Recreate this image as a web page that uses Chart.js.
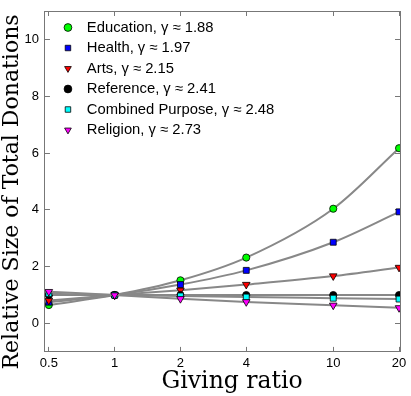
<!DOCTYPE html>
<html>
<head>
<meta charset="utf-8">
<script src="https://cdn.jsdelivr.net/npm/chart.js@4.4.1/dist/chart.umd.min.js"></script>
<style>
  html, body { margin: 0; padding: 0; background: #fff; }
  #wrap { width: 411px; height: 396px; }
</style>
</head>
<body>
<div id="wrap"><canvas id="donations"></canvas></div>
<script>
// values
const givingRatio = [0.5, 1, 2, 4, 10, 20];
const education = [0.65, 1, 1.52, 2.32, 4.04, 6.17];
const health = [0.75, 1, 1.37, 1.87, 2.86, 3.93];
const arts = [0.81, 1, 1.17, 1.37, 1.67, 1.97];
const reference = [1.0, 1, 1.0, 1.0, 1.0, 1.0];
const combined = [1.05, 1, 0.97, 0.93, 0.89, 0.86];
const religion = [1.12, 1, 0.87, 0.76, 0.64, 0.55];

const purposes = ['Education', 'Health', 'Arts', 'Reference', 'Combined Purpose', 'Religion'];
const gammas = ['1.88', '1.97', '2.15', '2.41', '2.48', '2.73'];
const xTicks = [0.5, 1, 2, 4, 10, 20];
const yTicks = [0, 2, 4, 6, 8, 10];

const seriesValues = [education, health, arts, reference, combined, religion];

// marker looks
const markerColors = ['#00ff00', '#0000ff', '#ff0000', '#000000', '#00ffff', '#ff00ff'];
const markerStyles = ['circle', 'rect', 'triangle', 'circle', 'rect', 'triangle'];
const markerTurns = [0, 0, 180, 0, 0, 180];
const markerSizes = [3.6, 4.2, 4.4, 3.6, 4.2, 4.4];

const frameColor = '#777';
const tickFont = { family: 'Liberation Sans', size: 13 };
// inward tick marks are 5px; an empty 5px title keeps the top/right boxes at zero size
const spacerTitle = { display: true, text: '', font: { size: 5, lineHeight: 1 }, padding: 0 };

const datasets = purposes.map((name, i) => ({
    label: name + ', \u03b3 \u2248 ' + gammas[i],
    data: givingRatio.map((x, j) => ({ x: x, y: seriesValues[i][j] })),
    borderColor: '#888',
    borderWidth: 2,
    cubicInterpolationMode: 'monotone',
    pointStyle: markerStyles[i],
    pointRotation: markerTurns[i],
    pointRadius: markerSizes[i],
    pointBackgroundColor: markerColors[i],
    pointBorderColor: '#000',
    pointBorderWidth: 0.8,
    order: purposes.length - i
}));

function setTicks(list) {
    return scale => { scale.ticks = list.map(v => ({ value: v })); };
}

// labels may hang over the plot edges, don't reserve room for them
function noEdgePadding(scale) {
    scale.paddingTop = 0;
    scale.paddingBottom = 0;
    scale.paddingLeft = 0;
    scale.paddingRight = 0;
}

// put the legend inside the plot, top left
const legendInPlot = {
    id: 'legendInPlot',
    afterLayout(chart) {
        const lg = chart.legend;
        const area = chart.chartArea;
        lg.left = area.left + 9.9;
        lg.top = area.top + 3.4;
        lg.right = area.right;
        lg.bottom = area.bottom;
    }
};

const config = {
    type: 'line',
    data: { datasets: datasets },
    options: {
        responsive: true,
        maintainAspectRatio: false,
        animation: false,
        devicePixelRatio: 1,
        layout: { padding: { left: 0, right: 11, top: 11, bottom: 2 } },
        plugins: {
            tooltip: { enabled: false },
            legend: {
                position: 'chartArea',
                align: 'start',
                labels: {
                    usePointStyle: true,
                    boxHeight: 5.5,
                    padding: 5.7,
                    color: '#000',
                    font: { family: 'Liberation Sans', size: 14.8 },
                    sort: (a, b) => a.datasetIndex - b.datasetIndex,
                    generateLabels: chart => Chart.defaults.plugins.legend.labels.generateLabels(chart)
                        .map(item => Object.assign(item, { text: ' ' + item.text }))
                }
            }
        },
        scales: {
            x: {
                type: 'logarithmic',
                min: 0.48,
                max: 20.2,
                afterBuildTicks: setTicks(xTicks),
                afterFit: noEdgePadding,
                ticks: { callback: v => String(v), color: '#000', font: tickFont, padding: 9, maxRotation: 0, autoSkip: false },
                grid: { drawOnChartArea: false, tickLength: -5, color: frameColor },
                border: { color: frameColor },
                title: {
                    // the spaces nudge the centred title to where the original sits
                    display: true, text: '\u2002 Giving ratio', color: '#000',
                    font: { family: 'DejaVu Serif', size: 23.5, lineHeight: 1 },
                    padding: { top: -10.3, bottom: 0.3 }
                }
            },
            y: {
                type: 'linear',
                min: -1,
                max: 11,
                afterBuildTicks: setTicks(yTicks),
                afterFit: noEdgePadding,
                ticks: { color: '#000', font: tickFont, padding: 11 },
                grid: { drawOnChartArea: false, tickLength: -5, color: frameColor },
                border: { color: frameColor },
                title: {
                    display: true, text: 'Relative Size of Total Donations   ', color: '#000',
                    font: { family: 'DejaVu Serif', size: 22, lineHeight: 1 },
                    padding: { top: 1, bottom: -9.5 }
                }
            },
            x2: {
                type: 'logarithmic',
                position: 'top',
                min: 0.48,
                max: 20.2,
                afterBuildTicks: setTicks(xTicks),
                afterFit: noEdgePadding,
                ticks: { display: false },
                grid: { drawOnChartArea: false, tickLength: -5, color: frameColor },
                border: { color: frameColor },
                title: spacerTitle
            },
            y2: {
                type: 'linear',
                position: 'right',
                min: -1,
                max: 11,
                afterBuildTicks: setTicks(yTicks),
                afterFit: noEdgePadding,
                ticks: { display: false },
                grid: { drawOnChartArea: false, tickLength: -5, color: frameColor },
                border: { color: frameColor },
                title: spacerTitle
            }
        }
    },
    plugins: [legendInPlot]
};

const ctx = document.getElementById('donations').getContext('2d');
window.donationChart = new Chart(ctx, config);
</script>
</body>
</html>
